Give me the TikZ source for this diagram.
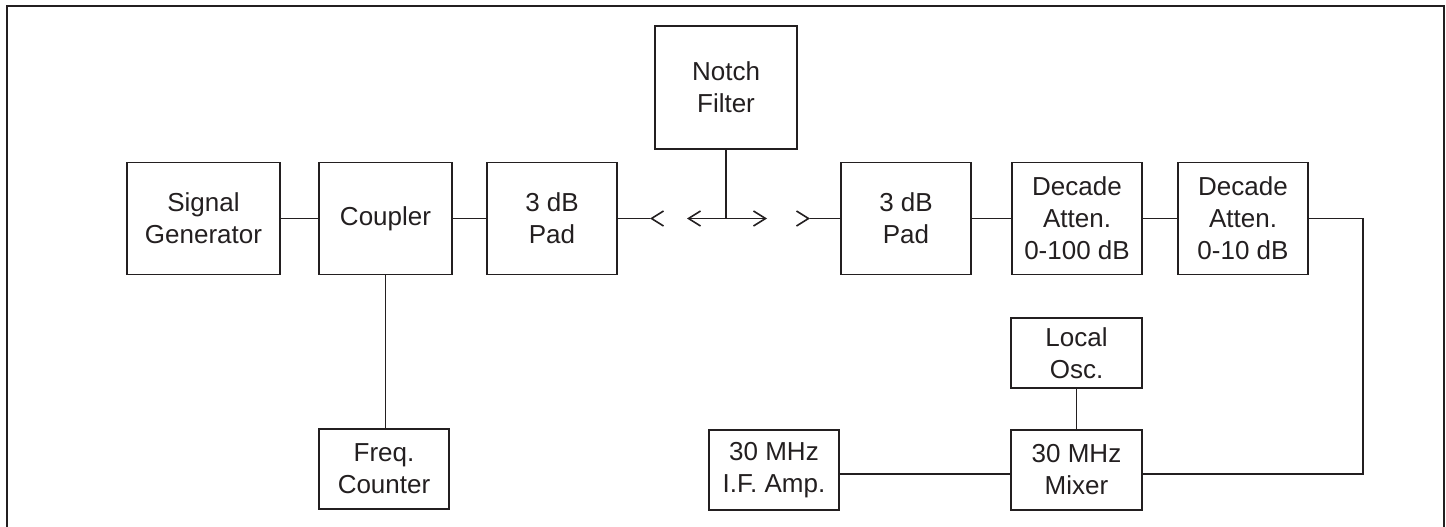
\documentclass[tikz,border=0pt]{standalone}
\usepackage{fontspec}
\setmainfont{Liberation Sans}
\usetikzlibrary{arrows.meta,calc}
\definecolor{ink}{HTML}{231F20}

\begin{document}
\begin{tikzpicture}[x=1pt, y=-1pt, ink, line width=1.6pt,
    font=\fontsize{26}{32}\selectfont,
    blk/.style={draw, align=center, inner sep=0pt},
    barb/.style={-{Straight Barb[length=12pt,width=15pt]}}]
  \useasboundingbox (0,0) rectangle (1446,527);
  % outer frame
  \draw[line width=2.4pt] (7,527) |- (1444,6) -- (1444,527);
  % main signal path
  \node[blk, minimum width=153pt, minimum height=112pt] (sig)   at (203.5,218.5) {Signal\\Generator};
  \node[blk, minimum width=133pt, minimum height=112pt] (coup)  at (385.5,218.5) {Coupler};
  \node[blk, minimum width=130pt, minimum height=112pt] (lpad)  at (552,218.5)   {3 dB\\Pad};
  \node[blk, minimum width=142pt, minimum height=123pt] (notch) at (726,87.5)    {Notch\\Filter};
  \node[blk, minimum width=130pt, minimum height=112pt] (rpad)  at (906,218.5)   {3 dB\\Pad};
  \node[blk, minimum width=130pt, minimum height=112pt] (dec1)  at (1077,218.5)  {Decade\\Atten.\\0-100 dB};
  \node[blk, minimum width=130pt, minimum height=112pt] (dec2)  at (1243,218.5)  {Decade\\Atten.\\0-10 dB};
  % lower row
  \node[blk, minimum width=130pt, minimum height=80pt] (freq)  at (384,469)    {Freq.\\Counter};
  \node[blk, minimum width=130pt, minimum height=80pt] (ifamp) at (774,470)    {30 MHz\\I.F. Amp.};
  \node[blk, minimum width=131pt, minimum height=80pt] (mix)   at (1076.5,470) {30 MHz\\Mixer};
  \node[blk, minimum width=131pt, minimum height=70pt] (osc)   at (1076.5,353) {Local\\Osc.};

  % connector jacks round the notch filter
  \coordinate (jL) at (650,218.5);
  \coordinate (aL) at (687,218.5);
  \coordinate (aR) at (767,218.5);
  \coordinate (jR) at (810,218.5);
  \coordinate (turn) at (1363,474);

  \draw (sig) -- (coup);
  \draw (coup) -- (lpad);
  \draw (lpad.east) -- (jL);
  \draw[barb] ($(jL)+(1,0)$) -- (jL);
  \draw[{Straight Barb[length=12pt,width=15pt]}-{Straight Barb[length=12pt,width=15pt]}] (aL) -- (aR);
  \draw (notch.south) -- (notch.south |- aL);
  \draw[barb] ($(jR)+(-1,0)$) -- (jR);
  \draw (jR) -- (rpad.west);
  \draw (rpad) -- (dec1);
  \draw (dec1) -- (dec2);
  \draw (dec2.east) -| (turn) -- ([yshift=-4pt]mix.east);
  \draw (osc) -- (mix);
  \draw ([yshift=-4pt]mix.west) -- ([yshift=-4pt]ifamp.east);
  \draw (coup.south) -- (coup.south |- freq.north);
\end{tikzpicture}
\end{document}
